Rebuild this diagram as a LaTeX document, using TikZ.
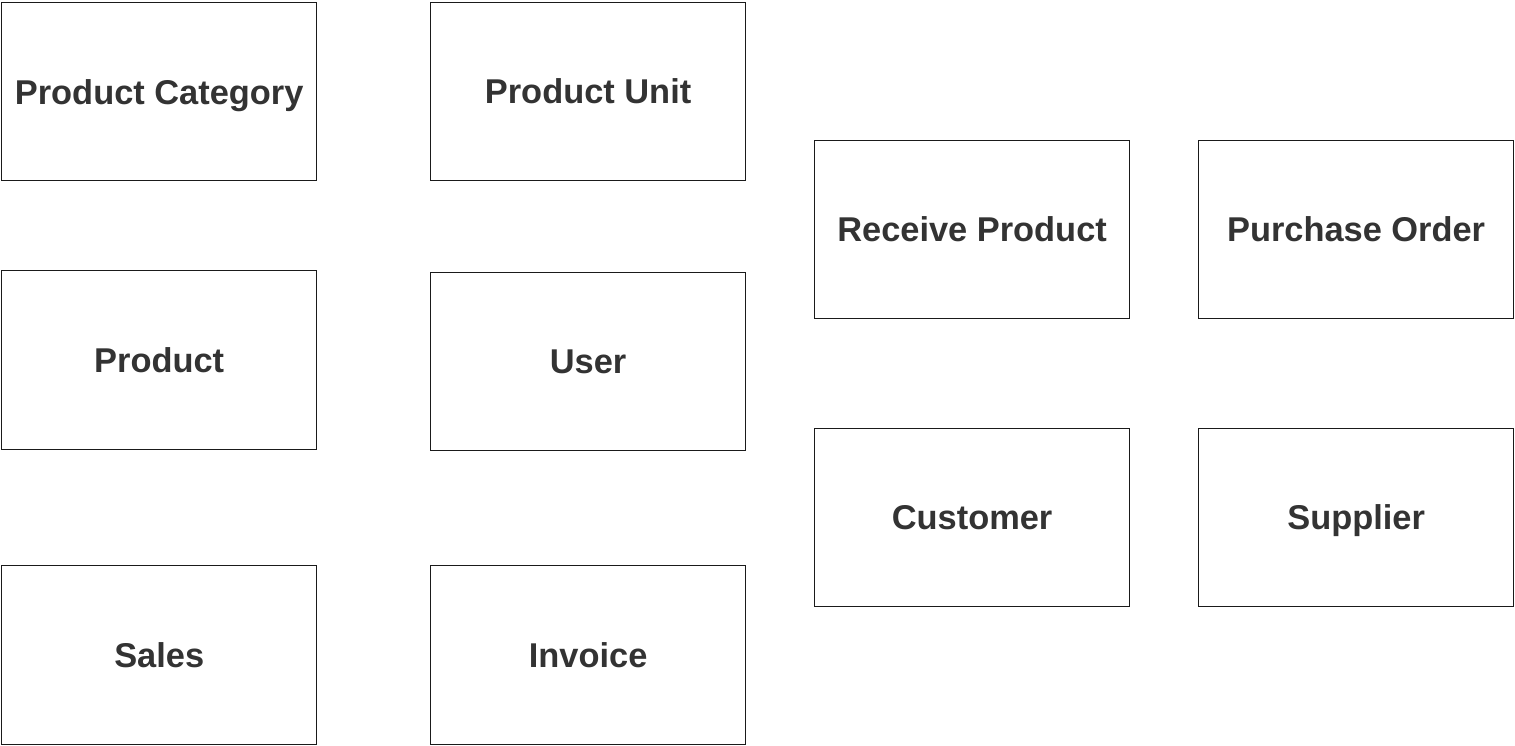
\documentclass[tikz,border=0pt]{standalone}
\usepackage{fontspec}
\setmainfont{Liberation Sans}
\definecolor{txt}{HTML}{333333}
\definecolor{edge}{HTML}{1A1A1A}
\begin{document}
\begin{tikzpicture}[x=1pt,y=-1pt,
  entity/.style={draw=edge,line width=1pt,fill=white,minimum width=315pt,minimum height=178pt,
    inner sep=0pt,anchor=north west,text=txt,font=\fontsize{34.4}{38}\selectfont\bfseries,
    text height=24.6pt,text depth=0pt}]
\useasboundingbox (0,0) rectangle (1515,745);
\node[entity] (pc) at (1.2,2.2) {Product Category};
\node[entity] (pu) at (430.1,2.1) {Product Unit};
\node[entity,minimum height=178.5pt] (prod) at (1.2,270.1) {Product};
\node[entity] (user) at (430.1,272.1) {User};
\node[entity,minimum height=178.5pt] (sales) at (1.2,565.1) {Sales};
\node[entity,minimum height=178.5pt] (inv) at (430.1,565.1) {Invoice};
\node[entity] (rp) at (814.1,140.1) {Receive Product};
\node[entity] (po) at (1198.1,140.1) {Purchase Order};
\node[entity] (cust) at (814.1,428.1) {Customer};
\node[entity] (sup) at (1198.1,428.1) {Supplier};
\end{tikzpicture}
\end{document}
